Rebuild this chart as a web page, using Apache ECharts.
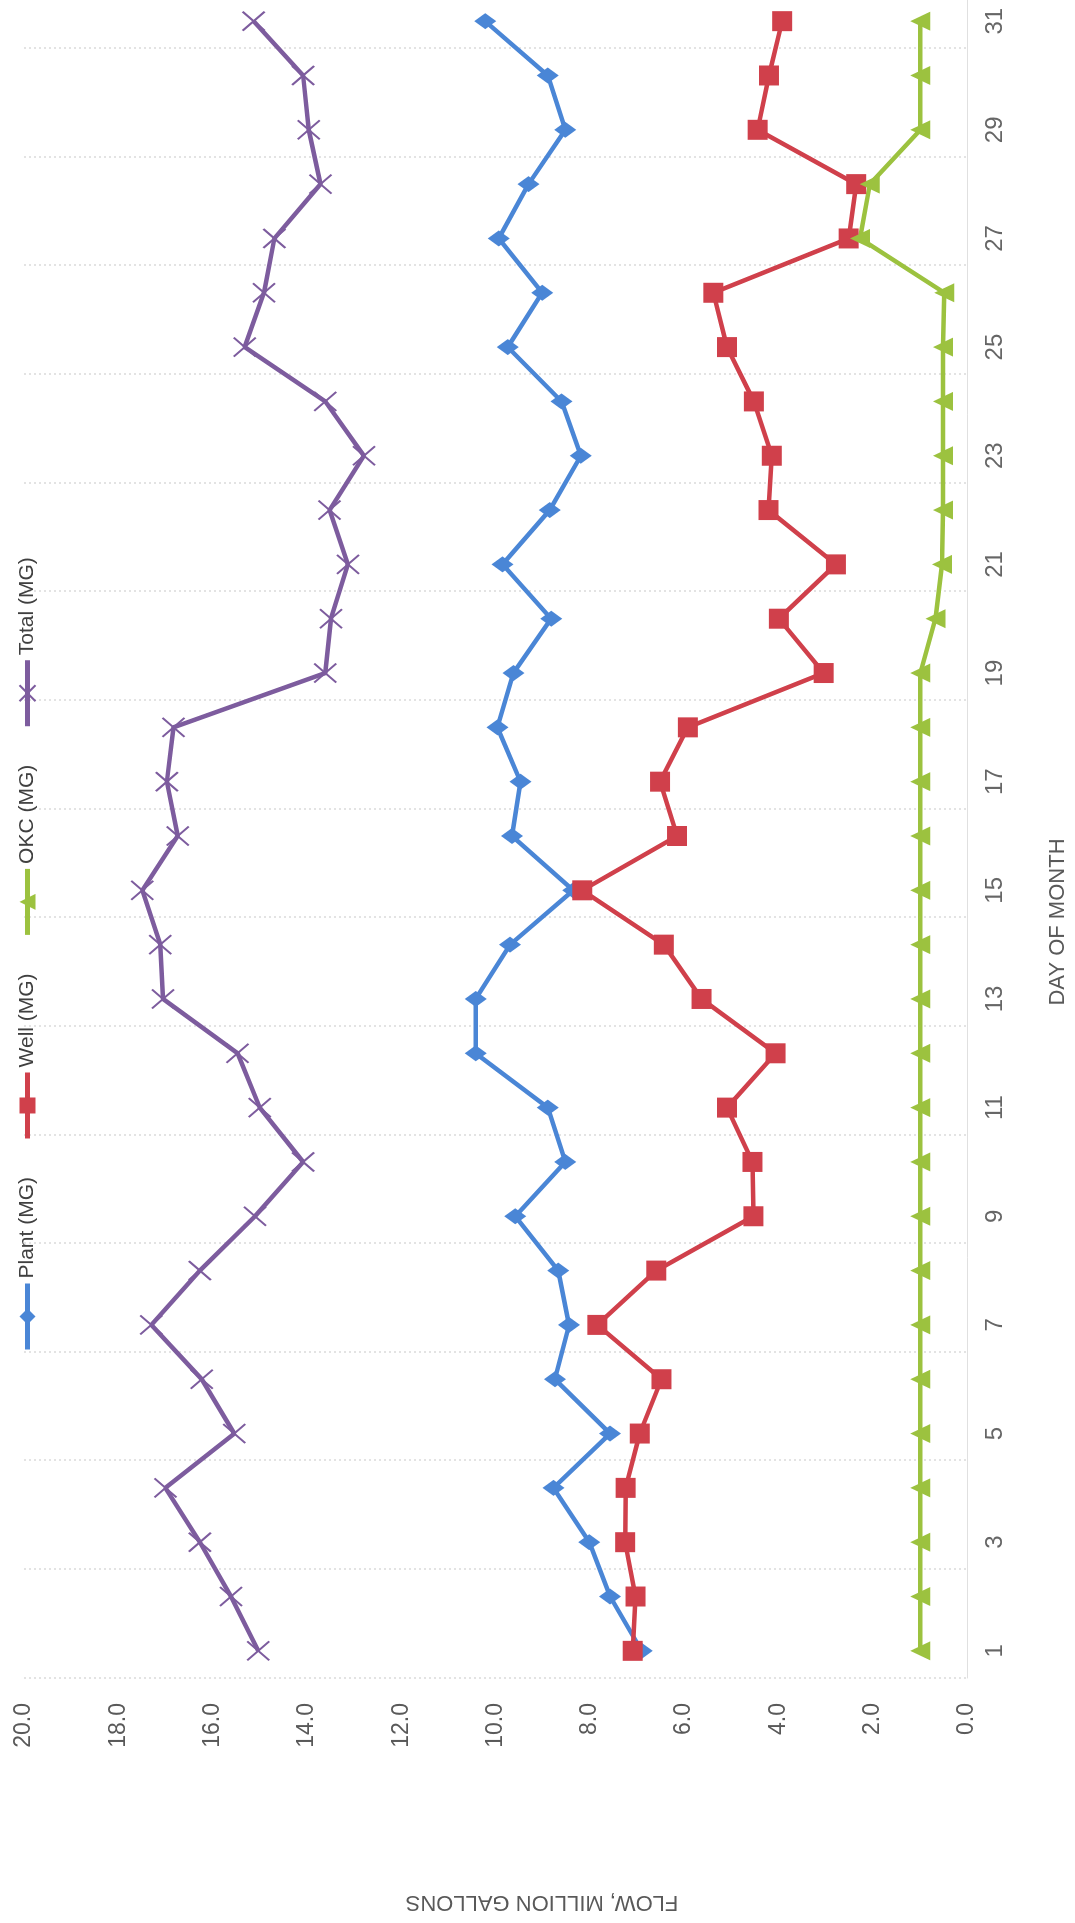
<!DOCTYPE html>
<html>
<head>
<meta charset="utf-8">
<script src="https://cdn.jsdelivr.net/npm/echarts@6/dist/echarts.min.js"></script>
<style>
  html, body { margin: 0; padding: 0; background: #fff; overflow: hidden; width: 1075px; height: 1923px; }
  /* the reference is a chart turned a quarter turn counter-clockwise */
  #chart {
    position: absolute; left: 0; top: 0;
    width: 1929px; height: 1075px;
    transform-origin: 0 0;
    transform: translate(0, 1923px) rotate(-90deg);
  }
</style>
</head>
<body>
<div id="chart"></div>
<script>
// day of month
var days = ['1', '2', '3', '4', '5', '6', '7', '8', '9', '10', '11', '12', '13', '14', '15', '16',
            '17', '18', '19', '20', '21', '22', '23', '24', '25', '26', '27', '28', '29', '30', '31'];

var plant = [6.9, 7.57, 8.01, 8.77, 7.57, 8.74, 8.44, 8.67, 9.58, 8.52, 8.89, 10.42, 10.42, 9.69, 8.35, 9.65,
             9.47, 9.96, 9.62, 8.82, 9.85, 8.85, 8.19, 8.6, 9.74, 9.01, 9.93, 9.3, 8.52, 8.89, 10.22];

var well = [7.09, 7.03, 7.25, 7.24, 6.94, 6.48, 7.84, 6.59, 4.53, 4.55, 5.09, 4.06, 5.63, 6.43, 8.16, 6.15,
            6.51, 5.92, 3.04, 3.99, 2.78, 4.21, 4.14, 4.52, 5.09, 5.38, 2.51, 2.35, 4.44, 4.2, 3.92];

var okc = [0.99, 0.99, 0.99, 0.99, 0.99, 0.99, 0.99, 0.99, 0.99, 0.99, 0.99, 0.99, 0.99, 0.99, 0.99, 0.99,
           0.99, 0.99, 0.99, 0.67, 0.53, 0.51, 0.51, 0.51, 0.51, 0.48, 2.27, 2.06, 0.99, 0.99, 0.99];

var total = [15.03, 15.61, 16.27, 17.0, 15.54, 16.23, 17.3, 16.27, 15.1, 14.08, 15.0, 15.47, 17.05, 17.11, 17.49, 16.74,
             16.97, 16.83, 13.61, 13.49, 13.13, 13.52, 12.79, 13.61, 15.32, 14.91, 14.69, 13.71, 13.96, 14.08, 15.13];

var names = ['Plant (MG)', 'Well (MG)', 'OKC (MG)', 'Total (MG)'];
var colors = ['#4a86d6', '#d0404b', '#9cc23f', '#7d5c9e'];

var font = 'Liberation Sans, Arial, sans-serif';
var crossPath = 'path://M0,0L18,21M18,0L0,21';

var series = [{
    name: names[0],
    type: 'line',
    data: plant,
    symbol: 'diamond',
    symbolSize: [16, 22],
    lineStyle: { width: 4.5, color: colors[0] },
    itemStyle: { color: colors[0] }
}, {
    name: names[1],
    type: 'line',
    data: well,
    symbol: 'rect',
    symbolSize: 20,
    lineStyle: { width: 4.5, color: colors[1] },
    itemStyle: { color: colors[1] }
}, {
    name: names[2],
    type: 'line',
    data: okc,
    symbol: 'triangle',
    symbolSize: [19, 20],
    lineStyle: { width: 4.5, color: colors[2] },
    itemStyle: { color: colors[2] }
}, {
    name: names[3],
    type: 'line',
    data: total,
    symbol: crossPath,
    symbolSize: [19, 22],
    lineStyle: { width: 4.5, color: colors[3] },
    itemStyle: { color: colors[3], borderColor: colors[3], borderWidth: 2 }
}];

var option = {
    backgroundColor: '#fff',
    animation: false,
    legend: {
        data: names,
        left: 566,
        top: 12,
        itemWidth: 66,
        itemHeight: 20,
        itemGap: 36,
        lineStyle: { width: 5 },
        textStyle: { fontSize: 21, color: '#404040', fontFamily: font }
    },
    grid: {
        left: 245,
        right: 0,
        top: 24,
        bottom: 108
    },
    xAxis: {
        type: 'category',
        data: days,
        boundaryGap: true,
        axisLine: { show: true, lineStyle: { color: '#e0e0e0', width: 1 } },
        axisTick: { show: false },
        axisLabel: { interval: 1, fontSize: 24, color: '#666', margin: 16, fontFamily: font },
        splitLine: { show: true, lineStyle: { type: [2, 3], color: '#dadada', width: 1.5 } }
    },
    yAxis: {
        type: 'value',
        min: 0,
        max: 20,
        interval: 2,
        axisLine: { show: false },
        axisTick: { show: false },
        splitLine: { show: false },
        axisLabel: {
            fontSize: 23, color: '#595959', margin: 25, fontFamily: font,
            formatter: function (v) { return v.toFixed(1); }
        }
    },
    graphic: [{
        type: 'text',
        x: 21,
        y: 542,
        rotation: Math.PI / 2,
        style: {
            text: 'FLOW, MILLION GALLONS',
            fontSize: 22, fontFamily: font, fill: '#595959',
            align: 'center', verticalAlign: 'middle'
        }
    }, {
        type: 'text',
        x: 1001,
        y: 1058,
        style: {
            text: 'DAY OF MONTH',
            fontSize: 22, fontFamily: font, fill: '#595959',
            align: 'center', verticalAlign: 'middle'
        }
    }],
    series: series
};

var myChart = echarts.init(document.getElementById('chart'));
myChart.setOption(option);
</script>
</body>
</html>
